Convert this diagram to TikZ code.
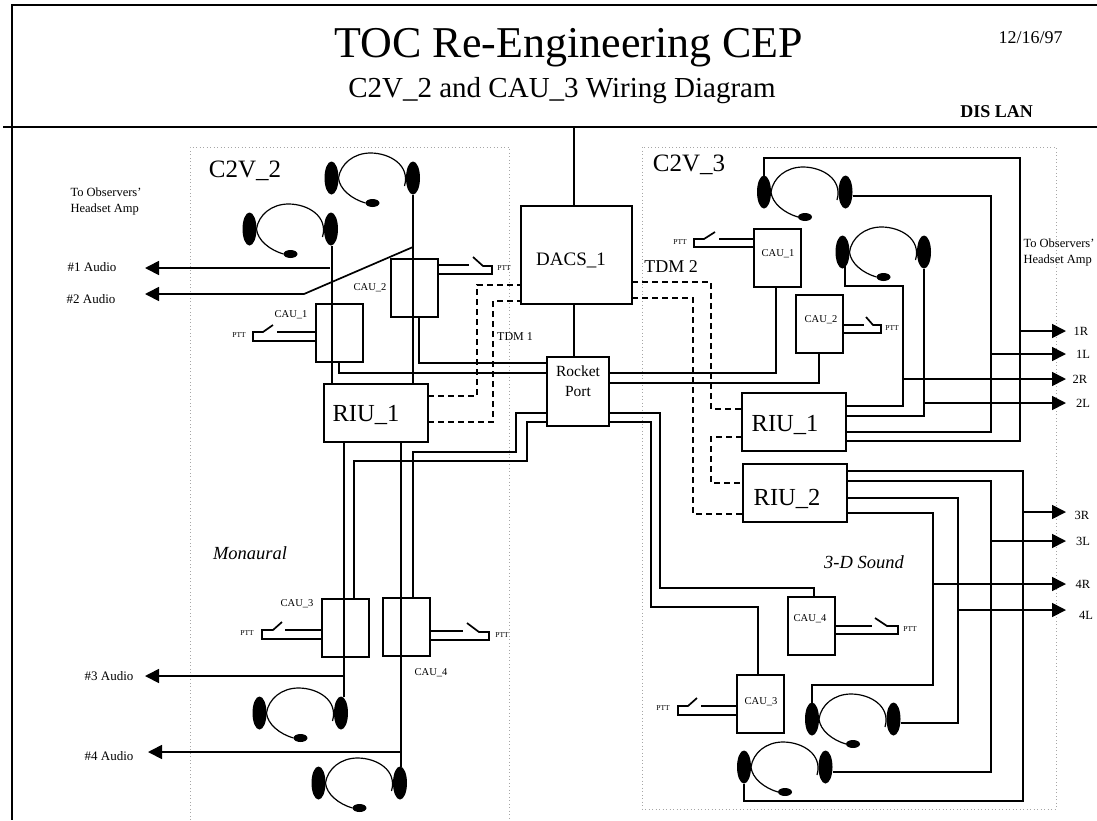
\documentclass[tikz,border=0pt]{standalone}
\usepackage{fontspec}
\setmainfont{Liberation Serif}
\usetikzlibrary{arrows.meta,shapes.geometric}

\tikzset{
	wire/.style={line width=1.7pt},
	link/.style={line width=1.7pt, dash pattern=on 6pt off 4pt},
	sig/.style={line width=1.7pt, -{Triangle[length=14pt,width=14pt]}},
	area/.style={gray!70, line width=0.8pt, dash pattern=on 1pt off 2.5pt},
	box/.style={draw, line width=1.7pt, inner sep=0pt, outer sep=0pt},
	cau/.style={box, minimum width=47pt, minimum height=58pt},
	riu/.style={box, minimum width=104pt, minimum height=58pt},
	ear/.style={ellipse, fill=black, inner sep=0pt, outer sep=0pt, minimum width=14pt, minimum height=33pt},
	mic/.style={ellipse, fill=black, inner sep=0pt, outer sep=0pt, minimum width=14pt, minimum height=8pt},
	txt/.style={inner sep=0pt, font=\fontsize{#1}{#1}\selectfont},
	ittxt/.style={inner sep=0pt, font=\fontsize{#1}{#1}\selectfont\itshape},
	ptt/.style={txt=7.5},
	caulbl/.style={txt=10.5},
	outlbl/.style={txt=12.5},
	audio/.style={txt=13}
}

\newcommand{\headset}[3]{
	\begin{scope}[shift={(#2,#3)}]
		\node[ear] (#1L) at (0,0) {};
		\node[ear] (#1R) at (81.5,0) {};
		\node[mic] (#1M) at (41,25) {};
		\draw[line width=1.2pt] (7,0) .. controls (9,-14) and (22,-25) .. (39,-25) .. controls (58,-25) and (79,-13) .. (73,8);
		\draw[line width=1.2pt] (7,0) .. controls (8,11) and (20,21) .. (#1M.west);
	\end{scope}
}

\begin{document}
\begin{tikzpicture}[x=1pt,y=-1pt]
	\useasboundingbox (0,0) rectangle (1097,820);

	\draw[line width=2pt] (1097,5) -- (12,5) -- (12,820);
	\draw[line width=2pt] (3,127) -- (1097,127);

	\node[txt=44, anchor=base] (title) at (569,57) {TOC Re-Engineering CEP};
	\node[txt=29, anchor=base] (subtitle) at (562,97) {C2V\_2 and CAU\_3 Wiring Diagram};
	\node[txt=18, anchor=base] (date) at (1030.5,43) {12/16/97};
	\node[txt=18, font=\fontsize{18}{18}\selectfont\bfseries, anchor=base] (lanlbl) at (996.5,117) {DIS LAN};

	\draw[area] (190,820) -- (190,147) -- (509,147) -- (509,820);
	\draw[area] (642,147) rectangle (1056,809);
	\node[txt=25] (leftlbl) at (245,171) {C2V\_2};
	\node[txt=25] (rightlbl) at (689,165) {C2V\_3};
	\node[ittxt=18.5] (mono) at (250,553) {Monaural};
	\node[ittxt=18.5] (threed) at (864,562) {3-D Sound};

	\node[box, minimum width=111pt, minimum height=98pt] (dacs) at (576.5,255) {};
	\node[box, minimum width=62pt, minimum height=69pt] (rocket) at (578,391.5) {};
	\node[riu] (riuL) at (376,413) {};
	\node[riu] (riuR1) at (794,422) {};
	\node[riu] (riuR2) at (795,493) {};
	\node[cau] (cauL1) at (339.5,333) {};
	\node[cau] (cauL2) at (414.5,288) {};
	\node[cau] (cauL3) at (345.5,628) {};
	\node[cau] (cauL4) at (406.5,627) {};
	\node[cau] (cauR1) at (777.5,258) {};
	\node[cau] (cauR2) at (819.5,324) {};
	\node[cau] (cauR3) at (760.5,704) {};
	\node[cau] (cauR4) at (811.5,626) {};

	\node[txt=19] (dacslbl) at (571,260) {DACS\_1};
	\node[txt=15.5, align=center] (rocketlbl) at (578,381) {Rocket\\[4pt]Port};
	\node[txt=24.5] (riuLlbl) at (366,415) {RIU\_1};
	\node[txt=24.5] (riuR1lbl) at (785,425) {RIU\_1};
	\node[txt=24.5] (riuR2lbl) at (787,499) {RIU\_2};
	\node[txt=18] (tdmB) at (671,267) {TDM 2};
	\node[txt=12] (tdmA) at (515,337) {TDM 1};
	\node[caulbl] (cauL1lbl) at (291,315) {CAU\_1};
	\node[caulbl] (cauL2lbl) at (370,288) {CAU\_2};
	\node[caulbl] (cauL3lbl) at (297,604) {CAU\_3};
	\node[caulbl] (cauL4lbl) at (431,673) {CAU\_4};
	\node[caulbl] (cauR1lbl) at (778,254) {CAU\_1};
	\node[caulbl] (cauR2lbl) at (821,320) {CAU\_2};
	\node[caulbl] (cauR3lbl) at (761,702) {CAU\_3};
	\node[caulbl] (cauR4lbl) at (810,619) {CAU\_4};

	\headset{hsA}{764}{192}
	\headset{hsB}{842.5}{252}
	\headset{hsC}{812}{719}
	\headset{hsD}{744}{767}
	\headset{hsE}{331.5}{178}
	\headset{hsF}{249.5}{229}
	\headset{hsG}{259.5}{713}
	\headset{hsH}{318.5}{783}

	\coordinate (lan) at (574,127);
	\coordinate (railE) at (1066,0);
	\coordinate (railW) at (145,0);
	\coordinate (tapL1) at (330,268);
	\coordinate (tapL2) at (413,247);
	\coordinate (tapL3) at (344,676);
	\coordinate (tapL4) at (401,752);
	\coordinate (tap1R) at (1020,331);
	\coordinate (tap1L) at (991,354);
	\coordinate (tap2R) at (903,379);
	\coordinate (tap2L) at (924,403);
	\coordinate (tap3R) at (1023,512);
	\coordinate (tap3L) at (991,541);
	\coordinate (tap4R) at (933,584);
	\coordinate (tap4L) at (958,610);

	\draw[wire] (lan) -- (574,0 |- dacs.north);
	\draw[wire] (574,0 |- dacs.south) -- (574,0 |- rocket.north);

	\draw[wire] (332,0 |- hsFR.south) -- (332,0 |- riuL.north);
	\draw[wire] (hsER.south) -- (hsER.south |- riuL.north);
	\draw[wire] (419,0 |- cauL2.south) |- (rocket.west |- 0,363);
	\draw[wire] (339,0 |- cauL1.south) |- (rocket.west |- 0,373);
	\draw[wire] (rocket.west |- 0,413) -- (516,413) -- (516,452) -- (413,452) -- (413,0 |- cauL4.north);
	\draw[wire] (rocket.west |- 0,422) -- (527,422) -- (527,461) -- (354,461) -- (354,0 |- cauL3.north);
	\draw[wire] (344,0 |- riuL.south) -- (344,0 |- hsGR.north);
	\draw[wire] (401,0 |- riuL.south) -- (401,0 |- hsHR.north);

	\draw[sig] (tapL1) -- (railW |- tapL1);
	\draw[sig] (tapL2) -- (304,294) -- (railW |- 0,294);
	\draw[sig] (tapL3) -- (railW |- tapL3);
	\draw[sig] (tapL4) -- ([xshift=3pt]railW |- tapL4);

	\draw[link] (riuL.east |- 0,396) -- (477,396) -- (477,285) -- (dacs.west |- 0,285);
	\draw[link] (riuL.east |- 0,422) -- (493,422) -- (493,301) -- (dacs.west |- 0,301);
	\draw[link] (dacs.east |- 0,282) -- (711,282) -- (711,409) -- (riuR1.west |- 0,409);
	\draw[link] (dacs.east |- 0,298) -- (693,298) -- (693,514) -- (riuR2.west |- 0,514);
	\draw[link] (riuR1.west |- 0,437) -- (711,437) -- (711,483) -- (riuR2.west |- 0,483);

	\draw[wire] (rocket.east |- 0,373) -| (776,0 |- cauR1.south);
	\draw[wire] (rocket.east |- 0,383) -| (819,0 |- cauR2.south);
	\draw[wire] (rocket.east |- 0,413) -- (660,413) -- (660,588) -- (814,588) -- (814,0 |- cauR4.north);
	\draw[wire] (rocket.east |- 0,422) -- (651,422) -- (651,607) -- (758,607) -- (758,0 |- cauR3.north);

	\draw[wire] (hsAL.north) |- (1020,158) -- (1020,441) -- (riuR1.east |- 0,441);
	\draw[wire] (hsAR.east |- 0,196) -- (991,196) -- (991,432) -- (riuR1.east |- 0,432);
	\draw[wire] (845,0 |- hsBL) -- (845,286) -- (903,286) -- (903,406) -- (riuR1.east |- 0,406);
	\draw[wire] (hsBR.south) |- (riuR1.east |- 0,416);

	\draw[wire] (riuR2.east |- 0,471) -- (1023,471) -- (1023,801) -- (hsDL.south |- 0,801) -- (hsDL.south);
	\draw[wire] (riuR2.east |- 0,481) -- (991,481) -- (991,772) -- (hsDR.east |- 0,772);
	\draw[wire] (riuR2.east |- 0,498) -- (958,498) -- (958,723) -- (hsCR.east |- 0,723);
	\draw[wire] (riuR2.east |- 0,513) -- (933,513) -- (933,685) -- (hsCL.north |- 0,685) -- (hsCL.north);

	\draw[sig] (tap1R) -- (railE |- tap1R);
	\draw[sig] (tap1L) -- (railE |- tap1L);
	\draw[sig] (tap2R) -- (railE |- tap2R);
	\draw[sig] (tap2L) -- (railE |- tap2L);
	\draw[sig] (tap3R) -- (railE |- tap3R);
	\draw[sig] (tap3L) -- (railE |- tap3L);
	\draw[sig] (tap4R) -- (railE |- tap4R);
	\draw[sig] (tap4L) -- (railE |- tap4L);

	\draw[wire] (cauL1.west |- 0,332) -- (277,332);
	\draw[wire] (273,325) -- (263,332) -- (253,332) -- (253,341) -- (cauL1.west |- 0,341);
	\draw[wire] (cauL2.east |- 0,265) -- (469,265);
	\draw[wire] (473,257) -- (483,266) -- (492,266) -- (492,274) -- (cauL2.east |- 0,274);
	\draw[wire] (cauL3.west |- 0,630) -- (285,630);
	\draw[wire] (282,622) -- (273,630) -- (262,630) -- (262,639) -- (cauL3.west |- 0,639);
	\draw[wire] (cauL4.east |- 0,631) -- (463,631);
	\draw[wire] (467,623) -- (479,632) -- (489,632) -- (489,640) -- (cauL4.east |- 0,640);
	\draw[wire] (cauR1.west |- 0,239) -- (719,239);
	\draw[wire] (715,232) -- (704,239) -- (694,239) -- (694,247) -- (cauR1.west |- 0,247);
	\draw[wire] (cauR2.east |- 0,325) -- (864,325);
	\draw[wire] (866,317) -- (873,325) -- (881,325) -- (881,333) -- (cauR2.east |- 0,333);
	\draw[wire] (cauR3.west |- 0,706) -- (701,706);
	\draw[wire] (697,698) -- (688,706) -- (678,706) -- (678,715) -- (cauR3.west |- 0,715);
	\draw[wire] (cauR4.east |- 0,626) -- (872,626);
	\draw[wire] (875,618) -- (887,626) -- (898,626) -- (898,634) -- (cauR4.east |- 0,634);

	\node[ptt] (pttL1) at (239,335) {PTT};
	\node[ptt] (pttL2) at (504,268) {PTT};
	\node[ptt] (pttL3) at (247,633) {PTT};
	\node[ptt] (pttL4) at (502,635) {PTT};
	\node[ptt] (pttR1) at (680,242) {PTT};
	\node[ptt] (pttR2) at (892,328) {PTT};
	\node[ptt] (pttR3) at (663,708) {PTT};
	\node[ptt] (pttR4) at (910,629) {PTT};

	\node[txt=12.5, align=left] (ampL) at (106,201) {To Observers'\\[3.5pt]Headset Amp};
	\node[txt=12.5, align=left] (ampR) at (1059,252) {To Observers'\\[3.5pt]Headset Amp};
	\node[audio] (audio1) at (92,267) {\#1 Audio};
	\node[audio] (audio2) at (91,299) {\#2 Audio};
	\node[audio] (audio3) at (109,676) {\#3 Audio};
	\node[audio] (audio4) at (109,756) {\#4 Audio};
	\node[outlbl] (out1R) at (1081,331) {1R};
	\node[outlbl] (out1L) at (1083,354) {1L};
	\node[outlbl] (out2R) at (1080,379) {2R};
	\node[outlbl] (out2L) at (1083,403) {2L};
	\node[outlbl] (out3R) at (1082,515) {3R};
	\node[outlbl] (out3L) at (1083,541) {3L};
	\node[outlbl] (out4R) at (1083,584) {4R};
	\node[outlbl] (out4L) at (1086,615) {4L};
\end{tikzpicture}
\end{document}
